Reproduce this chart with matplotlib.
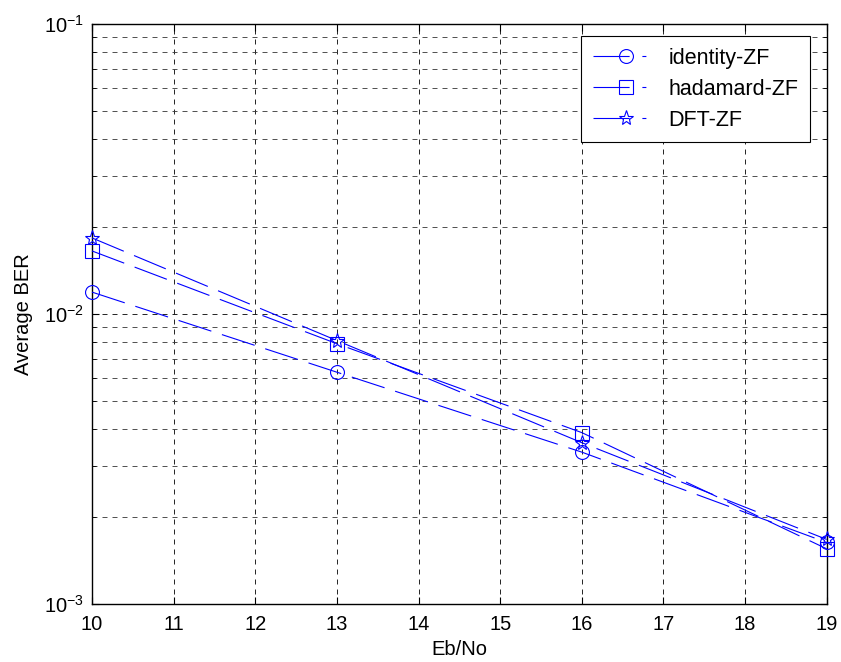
import matplotlib.pyplot as plt
from matplotlib.lines import Line2D
from matplotlib.ticker import LogLocator, NullFormatter

FS = 14.5
LEG_FS = 15.5
plt.rcParams.update({'font.family': ['Liberation Sans', 'DejaVu Sans'], 'font.size': FS,
                     'mathtext.default': 'regular'})

ebno = [10, 13, 16, 19]
ber_identity = [0.0119, 0.0063, 0.00334, 0.00163]
ber_hadamard = [0.0165, 0.0079, 0.0039, 0.00155]
ber_dft = [0.0183, 0.0081, 0.0036, 0.00167]
labels = ['identity-ZF', 'hadamard-ZF', 'DFT-ZF']
markers = ['o', 's', '*']

BLUE = '#0000ff'

fig = plt.figure(figsize=(8.41, 6.62), dpi=100)
ax = fig.add_axes([0.1094, 0.0876, 0.8736, 0.8761])

handles = []
for ber, lab, mk in zip([ber_identity, ber_hadamard, ber_dft], labels, markers):
    ms = 11 if mk == '*' else 10
    ax.plot(ebno, ber, color=BLUE, linewidth=0.8, dashes=(31, 10),
            marker=mk, markersize=ms, markerfacecolor='none',
            markeredgecolor=BLUE, markeredgewidth=0.8, clip_on=False, zorder=3)
    # legend proxy: solid stroke through the marker, then a short tick (MATLAB look)
    handles.append(Line2D([], [], color=BLUE, linewidth=0.8, dashes=(32.5, 11.5, 3.6, 40),
                          marker=mk, markersize=ms, markerfacecolor='none',
                          markeredgecolor=BLUE, markeredgewidth=0.8, label=lab))

ax.set_yscale('log')
ax.set_xlim(10, 19)
ax.set_ylim(1e-3, 1e-1)
ax.set_xticks(range(10, 20))
ax.yaxis.set_major_locator(LogLocator(base=10, numticks=5))
ax.yaxis.set_minor_locator(LogLocator(base=10, subs=range(2, 10), numticks=20))
ax.yaxis.set_minor_formatter(NullFormatter())

ax.grid(True, which='major', color='black', linestyle=(0, (6, 6)), linewidth=0.6)
ax.grid(True, which='minor', axis='y', color='#333333', linestyle=(0, (6, 6)), linewidth=0.6)
ax.tick_params(which='both', direction='in', top=True, right=True, length=5, labelsize=FS)
ax.tick_params(axis='x', pad=8)
ax.tick_params(axis='y', pad=6)
ax.tick_params(which='minor', length=3)
for s in ax.spines.values():
    s.set_linewidth(1.0)

ax.set_xlabel('Eb/No', fontsize=FS, labelpad=4)
ax.set_ylabel('Average BER', fontsize=FS, labelpad=8)

leg = ax.legend(handles=handles, loc='upper right', fontsize=LEG_FS, fancybox=False, framealpha=1,
                edgecolor='black', handlelength=3.06, handletextpad=0.42, labelspacing=0.46,
                borderpad=0.55, borderaxespad=0,
                bbox_to_anchor=(810 / 841, 1 - 36 / 662), bbox_transform=fig.transFigure)
leg.get_frame().set_linewidth(0.8)

fig.savefig('out.png', dpi=100)
